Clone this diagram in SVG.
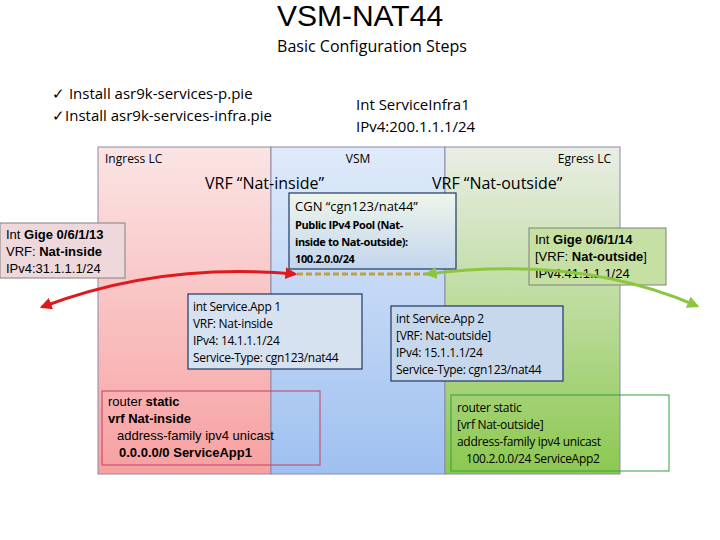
<svg xmlns="http://www.w3.org/2000/svg" width="720" height="540" viewBox="0 0 720 540">
<defs>
<linearGradient id="gr" x1="0" y1="0" x2="0" y2="1"><stop offset="0" stop-color="#fbe4e4"/><stop offset="1" stop-color="#f7a0a0"/></linearGradient>
<linearGradient id="gb" x1="0" y1="0" x2="0" y2="1"><stop offset="0" stop-color="#e0ebfa"/><stop offset="1" stop-color="#9fc0f0"/></linearGradient>
<linearGradient id="gg" x1="0" y1="0" x2="0" y2="1"><stop offset="0" stop-color="#eaeee6"/><stop offset="1" stop-color="#8cc850"/></linearGradient>
<linearGradient id="gc" x1="0" y1="0" x2="0" y2="1"><stop offset="0" stop-color="#eef5ea"/><stop offset="1" stop-color="#c4d6ee"/></linearGradient>
<marker id="ar" viewBox="0 0 10 10" refX="8" refY="5" markerWidth="4" markerHeight="4" orient="auto-start-reverse"><path d="M0,0L10,5L0,10z" fill="#e0191e"/></marker>
<marker id="ag" viewBox="0 0 10 10" refX="8" refY="5" markerWidth="4" markerHeight="4" orient="auto-start-reverse"><path d="M0,0L10,5L0,10z" fill="#8cc63f"/></marker>
</defs>
<style>
.c{font-family:"Liberation Sans",Arial,sans-serif}
.n{font-family:"Open Sans","Liberation Sans",sans-serif}
.box{stroke:#1f3864;stroke-width:1.2}
</style>
<text class="c" x="360" y="26" font-size="30" text-anchor="middle">VSM-NAT44</text>
<text class="n" x="372" y="52" font-size="16" text-anchor="middle">Basic Configuration Steps</text>
<text class="n" x="52" y="99" font-size="15">✓ Install asr9k-services-p.pie</text>
<text class="n" x="52" y="121" font-size="15">✓Install asr9k-services-infra.pie</text>
<text class="n" x="356" y="110" font-size="15">Int ServiceInfra1</text>
<text class="n" x="356" y="132" font-size="15">IPv4:200.1.1.1/24</text>
<g id="ingress"><rect x="98" y="147" width="173" height="327" fill="url(#gr)" stroke="#8a8aa8"/><text class="n" x="105" y="163" font-size="12">Ingress LC</text></g>
<g id="vsm"><rect x="271" y="147" width="174" height="327" fill="url(#gb)" stroke="#8a8aa8"/><text class="n" x="358" y="163" font-size="12" text-anchor="middle">VSM</text></g>
<g id="egress"><rect x="445" y="147" width="175" height="327" fill="url(#gg)" stroke="#8a8aa8"/><text class="n" x="611" y="163" font-size="12" text-anchor="end">Egress LC</text></g>
<text class="n" x="205" y="189" font-size="16">VRF “Nat-inside”</text>
<text class="n" x="432" y="189" font-size="16">VRF “Nat-outside”</text>
<g id="cgn"><rect x="289" y="193" width="167" height="76" fill="url(#gc)" class="box"/>
<text class="n" font-size="13"><tspan x="295" y="211">CGN “cgn123/nat44”</tspan></text>
<text class="n" font-size="11" font-weight="bold" letter-spacing="-0.4"><tspan x="295" y="229">Public IPv4 Pool (Nat-</tspan><tspan x="295" y="246">inside  to Nat-outside):</tspan><tspan x="295" y="263">100.2.0.0/24</tspan></text></g>
<g id="gige13"><rect x="0" y="223" width="125" height="55" fill="#eed8dc" stroke="#808080"/>
<text class="c" font-size="13"><tspan x="6" y="239">Int <tspan font-weight="bold">Gige 0/6/1/13</tspan></tspan><tspan x="6" y="256">VRF: <tspan font-weight="bold">Nat-inside</tspan></tspan><tspan x="6" y="273">IPv4:31.1.1.1/24</tspan></text></g>
<g id="gige14"><rect x="529" y="228" width="137" height="57" fill="#c6e0a4" stroke="#808080"/>
<text class="c" font-size="13"><tspan x="535" y="244">Int <tspan font-weight="bold">Gige 0/6/1/14</tspan></tspan><tspan x="535" y="261">[VRF: <tspan font-weight="bold">Nat-outside</tspan>]</tspan><tspan x="535" y="278">IPv4:41.1.1.1/24</tspan></text></g>
<g id="connectors">
<line x1="297" y1="274" x2="432" y2="274" stroke="#c0a040" stroke-width="3" stroke-dasharray="6,3"/>
<path d="M42,307 Q160,262 295,274" fill="none" stroke="#e0191e" stroke-width="3" marker-start="url(#ar)" marker-end="url(#ar)"/>
<path d="M427,274 Q580,255 697,306" fill="none" stroke="#8cc63f" stroke-width="3" marker-start="url(#ag)" marker-end="url(#ag)"/>
</g>
<g id="sa1"><rect x="188" y="294" width="174" height="75" fill="#d6e2f0" class="box"/>
<text class="n" font-size="12" letter-spacing="-0.3"><tspan x="193" y="311">int Service.App 1</tspan><tspan x="193" y="328">VRF: Nat-inside</tspan><tspan x="193" y="345">IPv4: 14.1.1.1/24</tspan><tspan x="193" y="362">Service-Type: cgn123/nat44</tspan></text></g>
<g id="sa2"><rect x="391" y="306" width="172" height="75" fill="#c8d8ec" class="box"/>
<text class="n" font-size="12" letter-spacing="-0.3"><tspan x="396" y="323">int Service.App 2</tspan><tspan x="396" y="340">[VRF: Nat-outside]</tspan><tspan x="396" y="357">IPv4: 15.1.1.1/24</tspan><tspan x="396" y="374">Service-Type: cgn123/nat44</tspan></text></g>
<g id="rs1"><rect x="102" y="391" width="218" height="74" fill="none" stroke="#c04060"/>
<text class="c" font-size="13"><tspan x="108" y="406">router <tspan font-weight="bold">static</tspan></tspan><tspan x="108" y="423" font-weight="bold">vrf Nat-inside</tspan><tspan x="117" y="440">address-family ipv4 unicast</tspan><tspan x="119" y="457" font-weight="bold">0.0.0.0/0 ServiceApp1</tspan></text></g>
<g id="rs2"><rect x="451" y="395" width="218" height="76" fill="none" stroke="#30a040"/>
<text class="n" font-size="12" letter-spacing="-0.3"><tspan x="457" y="412">router static</tspan><tspan x="457" y="429">[vrf Nat-outside]</tspan><tspan x="457" y="446">address-family ipv4 unicast</tspan><tspan x="466" y="463">100.2.0.0/24 ServiceApp2</tspan></text></g>
</svg>
